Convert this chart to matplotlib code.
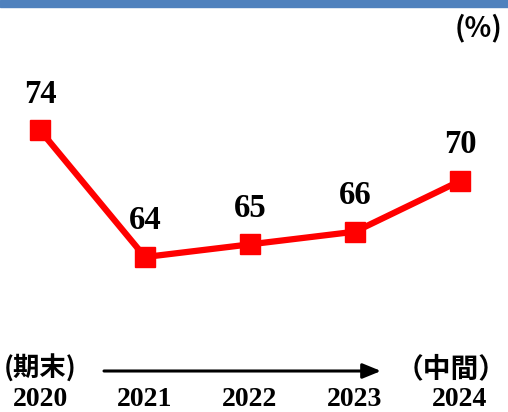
import matplotlib.pyplot as plt
import matplotlib.transforms as mtransforms
from matplotlib.patches import Rectangle

# data
years = ["2020", "2021", "2022", "2023", "2024"]
values = [74, 64, 65, 66, 70]

fig = plt.figure(figsize=(5.08, 4.12), dpi=100)
ax = fig.add_axes([0, 0, 1, 1])
ax.axis("off")

x = list(range(len(years)))
ax.plot(x, values, color="#ff0000", lw=4.5, marker="s", ms=15,
        solid_joinstyle="miter", zorder=3)
ax.set_xlim(-0.381, 4.457)
ax.set_ylim(51.78, 84.27)

# value labels
for i, v in enumerate(values):
    ax.annotate(str(v), (i, v), xytext=(0, 26), textcoords="offset points",
                ha="center", va="center", fontsize=23.5, fontweight="bold",
                family="Liberation Serif")

# year labels under each point
trans = mtransforms.blended_transform_factory(ax.transData, fig.transFigure)
for i, y in enumerate(years):
    ax.text(i, 1 - 399 / 412, y, transform=trans, ha="center", va="center",
            fontsize=20, fontweight="bold", family="Liberation Serif")

# period notes and arrow
cjk = ["Noto Sans CJK JP", "DejaVu Sans"]
ax.text(40 / 508, 1 - 369 / 412, "(期末)", transform=fig.transFigure,
        ha="center", va="center", fontsize=19, fontweight="bold", family=cjk)
ax.text(451 / 508, 1 - 369 / 412, "（中間）", transform=fig.transFigure,
        ha="center", va="center", fontsize=20, fontweight="bold", family=cjk)
ax.annotate("", xy=(381 / 508, 1 - 371 / 412), xytext=(104 / 508, 1 - 371 / 412),
            xycoords=fig.transFigure, textcoords=fig.transFigure,
            arrowprops=dict(arrowstyle="-|>,head_length=1.1,head_width=0.45",
                            color="black", lw=2.2, shrinkA=0, shrinkB=0))

# unit
ax.text(502 / 508, 1 - 28 / 412, "(%)", transform=fig.transFigure,
        ha="right", va="center", fontsize=20, fontweight="bold", family=cjk)

# blue band on top
fig.patches.append(Rectangle((0, 1 - 7 / 412), 1, 7 / 412, transform=fig.transFigure,
                             color="#4f81bd", zorder=5))

fig.savefig("out.png", dpi=100)
